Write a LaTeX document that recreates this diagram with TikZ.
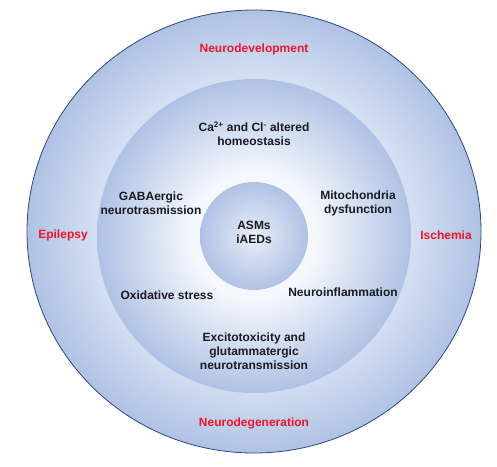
\documentclass[tikz,border=0pt]{standalone}
\usepackage{fontspec}
\setmainfont{Liberation Sans}
\usepackage{tikz}
\usetikzlibrary{shadings}
\definecolor{ringedge}{RGB}{176,194,228}
\definecolor{ringlight}{RGB}{214,225,243}
\definecolor{midlight}{RGB}{245,248,253}
\definecolor{corelight}{RGB}{232,238,249}
\definecolor{rimline}{RGB}{46,70,130}
\definecolor{labred}{RGB}{240,20,40}
\definecolor{labtext}{RGB}{26,26,34}
\pgfdeclareradialshading{outerring}{\pgfpoint{0bp}{0bp}}{color(0bp)=(ringlight); color(17bp)=(ringlight); color(25bp)=(ringedge); color(50bp)=(ringedge)}
\pgfdeclareradialshading{midring}{\pgfpoint{0bp}{0bp}}{color(0bp)=(midlight); color(10bp)=(midlight); color(25bp)=(ringedge); color(50bp)=(ringedge)}

\begin{document}
\begin{tikzpicture}[x=1pt, y=-1pt,
  disease/.style={text=labred, font=\bfseries\fontsize{12}{14}\selectfont, inner sep=0pt},
  mech/.style={text=labtext, font=\bfseries\fontsize{12}{14}\selectfont, align=center, inner sep=0pt}]
\useasboundingbox (0,0) rectangle (497,466);
\path[shading=outerring, draw=rimline, line width=0.8pt] (254,231.5) ellipse [x radius=227pt, y radius=221.5pt];
\path[shading=midring] (254,236) circle [radius=157pt];
\path[inner color=corelight, outer color=ringedge] (254,236) circle [radius=54pt];
% outer ring
\node[disease] (devel) at (254,49) {Neurodevelopment};
\node[disease] (degen) at (254,423) {Neurodegeneration};
\node[disease] (epil) at (63,235) {Epilepsy};
\node[disease] (isch) at (446,235) {Ischemia};
% middle ring
\node[mech] (calcium) at (254,134) {Ca\textsuperscript{2+} and Cl\textsuperscript{-} altered\\homeostasis};
\node[mech] (gaba) at (151,203) {GABAergic\\neurotrasmission};
\node[mech] (mito) at (358,203) {Mitochondria\\dysfunction};
\node[mech] (oxid) at (167,295) {Oxidative stress};
\node[mech] (inflam) at (343,292) {Neuroinflammation};
\node[mech] (excito) at (254,351) {Excitotoxicity and\\glutammatergic\\neurotransmission};
% core
\node[mech] (drugs) at (254,232) {ASMs\\iAEDs};
\end{tikzpicture}
\end{document}
